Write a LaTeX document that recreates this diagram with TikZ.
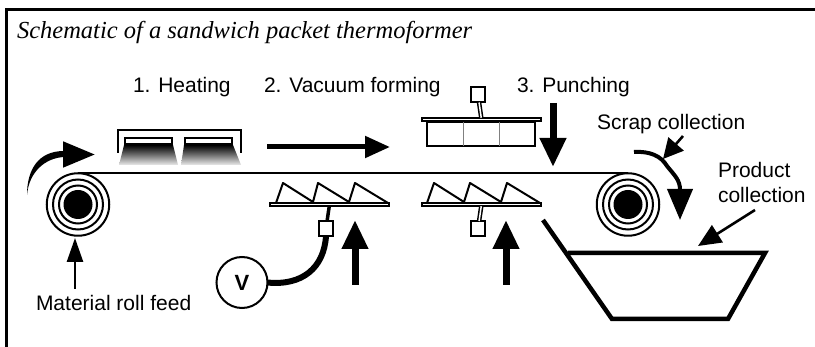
\documentclass[tikz,border=0pt]{standalone}
\usepackage{fontspec}
\setmainfont{Liberation Sans}
\newfontfamily\titlefont{Liberation Serif}
\usetikzlibrary{arrows.meta}

\begin{document}
\begin{tikzpicture}[x=1pt,y=-1pt]
	\tikzstyle{every node}=[inner sep=0pt,outer sep=0pt]
	\tikzstyle{label}=[anchor=base west,font=\fontsize{21}{25}\selectfont]
	\tikzstyle{ring}=[circle,draw,line width=2pt]
	\tikzstyle{platebox}=[rectangle,draw,fill=white,line width=2pt,minimum width=119pt,minimum height=3.5pt]
	\tikzstyle{portbox}=[rectangle,draw,fill=white,line width=2pt,minimum width=14.5pt,minimum height=15pt]
	\tikzstyle{lampbox}=[rectangle,draw,fill=white,line width=2pt,minimum width=47pt,minimum height=6.5pt]
	\tikzstyle{moldline}=[line width=2pt,line join=round]
	\tikzstyle{stem}=[line width=1.5pt,double,double distance=1.5pt]
	\tikzstyle{thinarrow}=[line width=2.6pt,-{Triangle[length=23pt,width=17pt]}]
	\tikzstyle{pusharrow}=[line width=7pt,-{Triangle[length=29pt,width=25pt]}]
	\tikzstyle{glow}=[top color=black,bottom color=black!8,middle color=black!55]
	\useasboundingbox (0,0) rectangle (815,347);

	\draw[line width=2.5pt] (6.5,347) |- (815,9.5);
	\node[anchor=base west,font=\titlefont\itshape\fontsize{24.5}{30}\selectfont] (title) at (17,39) {Schematic of a sandwich packet thermoformer};

	\node[label] (heating) at (133,93) {1. Heating};
	\node[label] (forming) at (264,93) {2. Vacuum forming};
	\node[label] (punching) at (517,93) {3. Punching};
	\node[label] (scrap) at (597,130) {Scrap collection};
	\node[label] (product) at (718,178) {Product};
	\node[label] (productb) at (718,203) {collection};
	\node[label] (feedlabel) at (36,311) {Material roll feed};

	\node[ring,minimum size=62.5pt] (feedroll) at (78,204.5) {};
	\node[ring,minimum size=50pt] at (feedroll.center) {};
	\node[ring,minimum size=38pt] at (feedroll.center) {};
	\node[circle,fill,minimum size=29pt] at (feedroll.center) {};
	\node[ring,minimum size=62.5pt] (takeroll) at (628,204.5) {};
	\node[ring,minimum size=50pt] at (takeroll.center) {};
	\node[ring,minimum size=38pt] at (takeroll.center) {};
	\node[circle,fill,minimum size=29pt] at (takeroll.center) {};
	\draw[line width=2pt] (feedroll.north) -- (takeroll.north);

	\shade[glow] (124,145) -- (173,145) -- (178,165) -- (119,165) -- cycle;
	\shade[glow] (184,145) -- (233,145) -- (241,165) -- (181,165) -- cycle;
	\node[lampbox] (lampa) at (148.5,141) {};
	\node[lampbox] (lampb) at (208.5,141) {};
	\draw[line width=2pt] (118,153) |- (241,130) -- (241,153);

	\coordinate (formstart) at (267,147);
	\coordinate (formtip) at (390,147);
	\draw[line width=5pt,-{Triangle[length=25pt,width=21pt]}] (formstart) -- (formtip);

	\node[portbox] (punchport) at (478,95) {};
	\node[platebox] (punchplate) at (481.5,119.5) {};
	\draw[stem] (punchport) -- (punchplate);
	\draw[line width=2pt] (427,122) rectangle (535,146);
	\draw[gray,line width=1pt] (463,122) -- (463,146);
	\draw[gray,line width=1pt] (499,122) -- (499,146);

	\coordinate (punchstart) at (553,103);
	\coordinate (punchtip) at (553,167);
	\draw[pusharrow] (punchstart) -- (punchtip);

	\draw[moldline] (276,203) -- (283,183) -- (313,202) -- (318,183) -- (349,202) -- (355,183) -- (388,203);
	\node[platebox] (moldplatea) at (329.5,204.5) {};
	\node[portbox] (vacport) at (326,228.5) {};
	\draw[line width=3.5pt] (moldplatea) -- (vacport);
	\draw[moldline] (427,203) -- (434,183) -- (464,202) -- (470,183) -- (501,202) -- (507,183) -- (540,203);
	\node[platebox] (moldplateb) at (481.5,204.5) {};
	\node[portbox] (moldport) at (478,228.5) {};
	\draw[stem] (moldplateb) -- (moldport);

	\coordinate (lifta) at (355,285);
	\coordinate (liftatip) at (355,220);
	\draw[pusharrow] (lifta) -- (liftatip);
	\coordinate (liftb) at (506,285);
	\coordinate (liftbtip) at (506,220);
	\draw[pusharrow] (liftb) -- (liftbtip);

	\node[circle,draw,line width=2pt,minimum size=51pt,font=\bfseries\fontsize{22}{25}\selectfont] (vacuum) at (242,282.5) {V};
	\draw[line width=6pt] (vacport.south) .. controls (324,268) and (302,286) .. (vacuum.east);

	\fill (27,195) .. controls (27,170) and (38,151) .. (64,151) -- (64,157) .. controls (45,158) and (29,172) .. cycle;
	\coordinate (feedbend) at (63,154.5);
	\coordinate (feedtip) at (95,154.5);
	\draw[line width=5pt,-{Triangle[length=32pt,width=25pt]}] (feedbend) -- (feedtip);

	\coordinate (feedtail) at (75,289);
	\coordinate (feedhead) at (75,238);
	\draw[thinarrow,-{Triangle[length=24pt,width=16pt]}] (feedtail) -- (feedhead);

	\coordinate (scrapstart) at (634,152);
	\coordinate (scraptip) at (680,220);
	\draw[line width=4pt,-{Triangle[length=31pt,width=25pt]}] (scrapstart) .. controls (650,151) and (661,156) .. (667,166) .. controls (675,176) and (680,180) .. (scraptip);
	\coordinate (scraptail) at (683,136);
	\coordinate (scrapend) at (663,159);
	\draw[thinarrow,-{Triangle[length=20pt,width=20pt]}] (scraptail) -- (scrapend);

	\coordinate (binarrowtail) at (755,210);
	\coordinate (binarrowtip) at (698,246);
	\draw[thinarrow,-{Triangle[length=23pt,width=20pt]}] (binarrowtail) -- (binarrowtip);

	\draw[line width=4.5pt] (543,220) -- (612,319) -- (728,319) -- (765,253) -- (568,253);
\end{tikzpicture}
\end{document}
